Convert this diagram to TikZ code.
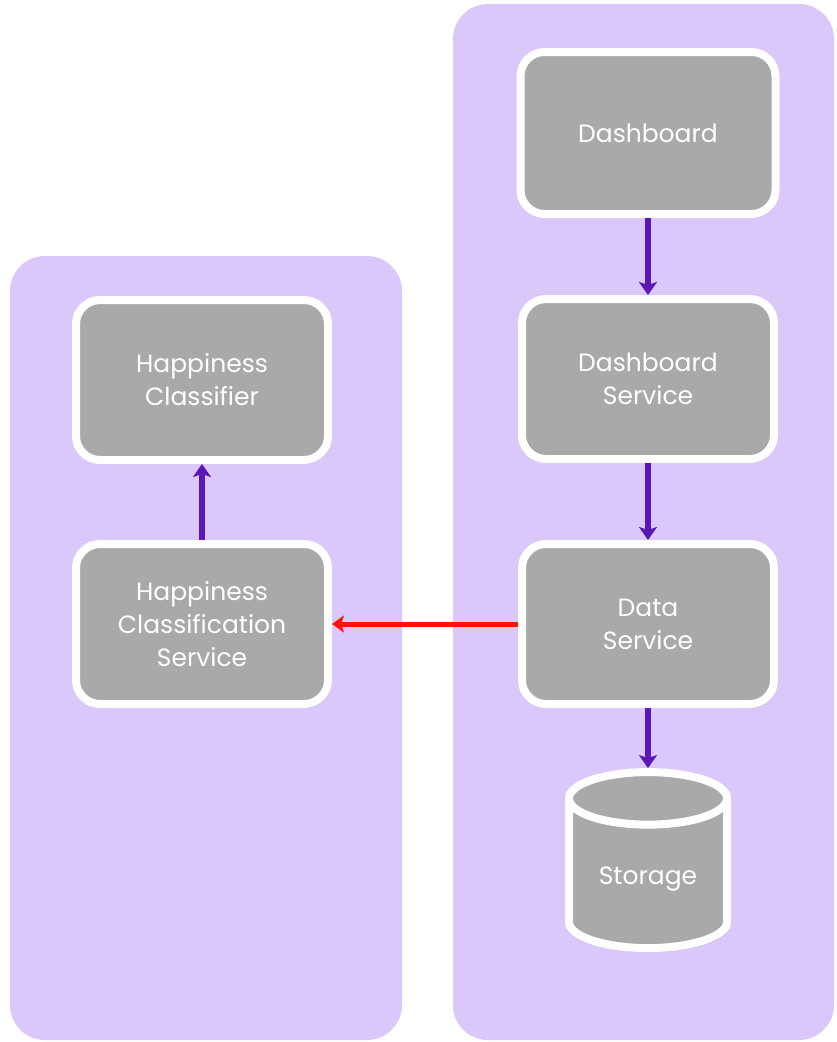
\documentclass[tikz,border=0pt]{standalone}
\usepackage{fontspec}
\setmainfont{Poppins}
\usepackage{tikz}
\usetikzlibrary{arrows.meta}
\usetikzlibrary{shapes.geometric}
\usetikzlibrary{shadows}

\definecolor{panelbg}{RGB}{218,200,250}
\definecolor{boxgray}{RGB}{169,169,169}
\definecolor{endgray}{RGB}{205,205,205}
\definecolor{flowpurple}{RGB}{90,23,181}
\definecolor{callred}{RGB}{255,20,0}

\begin{document}
\begin{tikzpicture}[x=1pt, y=-1pt,
	panel/.style={fill=panelbg, rounded corners=35pt},
	svcbox/.style={draw=white, line width=8pt, fill=boxgray, rounded corners=24pt,
		minimum width=252pt, minimum height=160pt, align=center, text=white,
		font=\fontsize{25}{33}\selectfont,
		drop shadow={opacity=0.3, shadow xshift=2pt, shadow yshift=-4pt}},
	flow/.style={draw=flowpurple, line width=6pt, -{Stealth[length=13pt, width=18pt, inset=3pt]}},
	call/.style={draw=callred, line width=5pt, -{Stealth[length=12pt, width=17pt, inset=3pt]}}]
	\useasboundingbox (0,0) rectangle (836,1042);

	% the two containers
	\fill[panel] (10,256) rectangle (402,1040);
	\fill[panel] (453,4) rectangle (834,1040);

	% right column
	\node[svcbox, minimum width=255pt, minimum height=162pt] (dash) at (648,133) {Dashboard};
	\node[svcbox] (dashsvc) at (648,379) {Dashboard\\Service};
	\node[svcbox] (datasvc) at (648,624) {Data\\Service};
	\node[svcbox, shape=cylinder, shape border rotate=90, aspect=0.5, rounded corners=0pt,
		cylinder uses custom fill, cylinder body fill=boxgray, cylinder end fill=endgray,
		minimum width=158pt, minimum height=176pt] (store) at (648,879) {Storage};

	% left column
	\node[svcbox] (classifier) at (202,380) {Happiness\\Classifier};
	\node[svcbox] (classsvc) at (202,624) {Happiness\\Classification\\Service};

	\draw[flow] (dash) -- (dashsvc);
	\draw[flow] (dashsvc) -- (datasvc);
	\draw[flow] (datasvc) -- (store);
	\draw[flow] (classsvc) -- (classifier);
	\draw[call] (datasvc.west) -- (classsvc.east);
\end{tikzpicture}
\end{document}
